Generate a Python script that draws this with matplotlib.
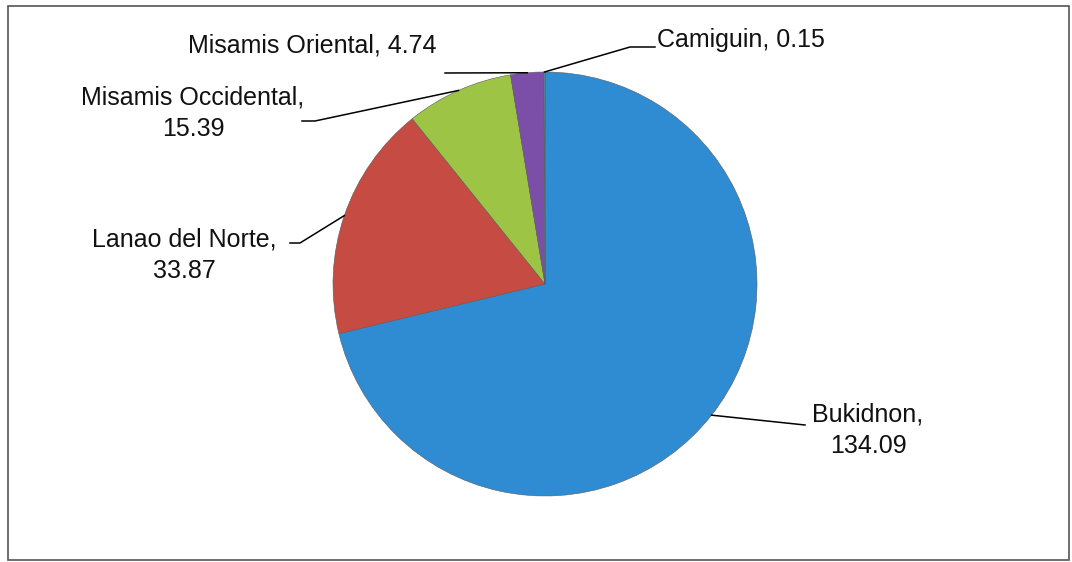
import matplotlib.pyplot as plt
import numpy as np

plt.rcParams['font.family'] = ['Liberation Sans', 'DejaVu Sans']

# datos
provincias = ['Bukidnon', 'Lanao del Norte', 'Misamis Occidental', 'Misamis Oriental', 'Camiguin']
valores = [134.09, 33.87, 15.39, 4.74, 0.15]
etiquetas = ['Bukidnon,\n134.09', 'Lanao del Norte,\n33.87', 'Misamis Occidental,\n15.39',
             'Misamis Oriental, 4.74', 'Camiguin, 0.15']
colores = ['#2F8CD3', '#C64B42', '#9EC446', '#7B4FA8', '#4BACC6']

W, H = 1072, 562
cx, cy, r = 545, H - 284, 212

fig = plt.figure(figsize=(W / 100, H / 100), dpi=100)
ax = fig.add_axes([0, 0, 1, 1])

wedges, _ = ax.pie(valores, colors=colores, startangle=90, counterclock=False,
                   center=(cx, cy), radius=r, frame=True,
                   wedgeprops=dict(edgecolor='#5a5a5a', linewidth=0.4))
ax.set_xlim(0, W)
ax.set_ylim(0, H)
ax.set_aspect('equal')
ax.axis('off')

# posiciones de las etiquetas (texto, codo y final de la linea guia)
pos_texto = [(868, H - 430), (184, H - 255), (193, H - 113), (312, H - 45), (657, H - 40)]
codos = [(805, H - 425), (300, H - 243), (315, H - 121), (445, H - 73), (630, H - 47)]
fin_linea = [(805, H - 425), (290, H - 243), (302, H - 121), (445, H - 73), (655, H - 47)]
alineacion = ['center', 'center', 'center', 'center', 'left']

for w, txt, p, c, f, ha in zip(wedges, etiquetas, pos_texto, codos, fin_linea, alineacion):
    ang = np.deg2rad((w.theta1 + w.theta2) / 2)
    x0 = cx + r * np.cos(ang)
    y0 = cy + r * np.sin(ang)
    ax.plot([x0, c[0], f[0]], [y0, c[1], f[1]], color='black', lw=1.1)
    ax.text(p[0], p[1], txt, ha=ha, va='center', multialignment='center',
            fontsize=18, color='#111111', linespacing=1.38)

# marco del grafico
ax.add_patch(plt.Rectangle((8, 2), W - 11, H - 8, fill=False, edgecolor='#555555', lw=1.2))

fig.savefig('out.png', dpi=100)
